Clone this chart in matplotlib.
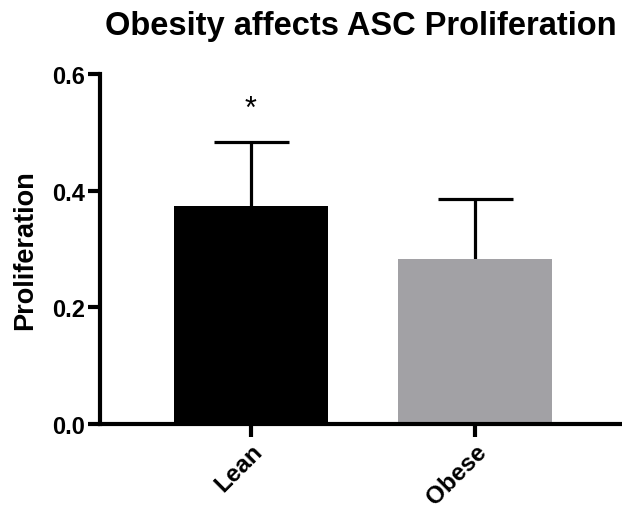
import matplotlib
matplotlib.use("Agg")
import matplotlib.pyplot as plt
from matplotlib.transforms import ScaledTranslation

categories = ["Lean", "Obese"]
values = [0.374, 0.283]
errors = [0.109, 0.103]
colors = ["#000000", "#a2a1a5"]
yticks = [0.0, 0.2, 0.4, 0.6]

plt.rcParams['font.family'] = ['Liberation Sans', 'DejaVu Sans']

fig = plt.figure(figsize=(6.22, 5.10), dpi=100)
ax = fig.add_axes([100/622, 85/510, 522/622, 350/510])

x = list(range(len(categories)))
ax.bar(x, values, width=0.6875, color=colors, zorder=2)
ax.errorbar(x, values, yerr=errors, fmt='none',
            ecolor='black', elinewidth=2.3, capsize=27, capthick=2.3, zorder=1)

ax.set_xlim(-0.674, 1.656)
ax.set_ylim(0, 0.6)
ax.set_yticks(yticks)
ax.set_yticklabels([f"{t:.1f}" for t in yticks], fontsize=17, fontweight='bold')
ax.set_xticks(x)
ax.set_xticklabels(categories, fontsize=17.5, fontweight='bold', rotation=45,
                   ha='right', rotation_mode='anchor')
offset = ScaledTranslation(3/72, 0, fig.dpi_scale_trans)
for lbl in ax.get_xticklabels():
    lbl.set_transform(lbl.get_transform() + offset)

for s in ['top', 'right']:
    ax.spines[s].set_visible(False)
for s in ['left', 'bottom']:
    ax.spines[s].set_linewidth(3)
    ax.spines[s].set_capstyle('projecting')
ax.tick_params(axis='both', length=9, width=3, pad=2)
ax.tick_params(axis='x', pad=2)

ax.set_ylabel("Proliferation", fontsize=19.5, fontweight='bold', labelpad=10)
fig.text(0.58, 0.948, "Obesity affects ASC Proliferation", fontsize=23.5,
         fontweight='bold', ha='center', va='center')

ax.text(0, values[0] + errors[0] + 0.058, "*", ha='center', va='center', fontsize=22)

fig.savefig("out.png", dpi=100)
